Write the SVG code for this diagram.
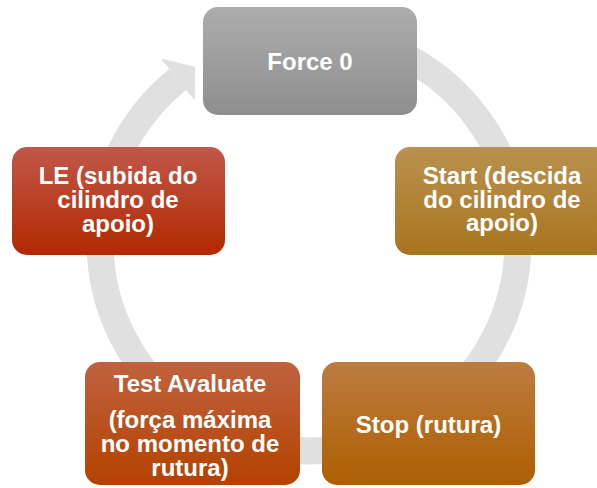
<svg xmlns="http://www.w3.org/2000/svg" width="597" height="488" viewBox="0 0 597 488">
  <defs>
    <linearGradient id="gGray" x1="0" y1="0" x2="0" y2="1">
      <stop offset="0" stop-color="#adadad"/>
      <stop offset="1" stop-color="#8e8e8e"/>
    </linearGradient>
    <linearGradient id="gGold" x1="0" y1="0" x2="0" y2="1">
      <stop offset="0" stop-color="#b9914f"/>
      <stop offset="1" stop-color="#a8751e"/>
    </linearGradient>
    <linearGradient id="gOrange" x1="0" y1="0" x2="0" y2="1">
      <stop offset="0" stop-color="#bd7c41"/>
      <stop offset="1" stop-color="#ae5e00"/>
    </linearGradient>
    <linearGradient id="gRust" x1="0" y1="0" x2="0" y2="1">
      <stop offset="0" stop-color="#c0623f"/>
      <stop offset="1" stop-color="#b34200"/>
    </linearGradient>
    <linearGradient id="gRed" x1="0" y1="0" x2="0" y2="1">
      <stop offset="0" stop-color="#c0584a"/>
      <stop offset="1" stop-color="#b22800"/>
    </linearGradient>
  </defs>
  <style>
    .lbl { font-family: "Liberation Sans", Arial, sans-serif; font-weight: bold; font-size: 24px; fill: #ffffff; text-anchor: middle; }
    .ring { fill: none; stroke: #e0e0e0; stroke-width: 27; }
    .head { fill: #e0e0e0; }
  </style>
  <rect width="597" height="488" fill="#ffffff"/>
  <g id="connectors">
    <path class="ring" d="M 309 33 A 209 209 0 1 1 177.7 79.4"/>
    <polygon class="head" points="160.8,58.4 195.1,66.7 194.7,100.4"/>
  </g>
  <g id="node-force0">
    <rect x="203" y="7" width="214" height="108" rx="15" fill="url(#gGray)"/>
    <text class="lbl" x="310" y="70">Force 0</text>
  </g>
  <g id="node-start">
    <rect x="395" y="147" width="214" height="108" rx="15" fill="url(#gGold)"/>
    <text class="lbl" x="502" y="184">Start (descida</text>
    <text class="lbl" x="502" y="207.7">do cilindro de</text>
    <text class="lbl" x="502" y="231.4">apoio)</text>
  </g>
  <g id="node-stop">
    <rect x="322" y="362" width="213" height="123" rx="15" fill="url(#gOrange)"/>
    <text class="lbl" x="428.5" y="432.5">Stop (rutura)</text>
  </g>
  <g id="node-test">
    <rect x="85" y="362" width="215" height="123" rx="15" fill="url(#gRust)"/>
    <text class="lbl" x="190" y="391.7">Test Avaluate</text>
    <text class="lbl" x="190" y="428.3">(força máxima</text>
    <text class="lbl" x="190" y="452">no momento de</text>
    <text class="lbl" x="190" y="475.5">rutura)</text>
  </g>
  <g id="node-le">
    <rect x="12" y="147" width="213" height="108" rx="15" fill="url(#gRed)"/>
    <text class="lbl" x="118" y="184">LE (subida do</text>
    <text class="lbl" x="118" y="208">cilindro de</text>
    <text class="lbl" x="118" y="231.7">apoio)</text>
  </g>
</svg>
